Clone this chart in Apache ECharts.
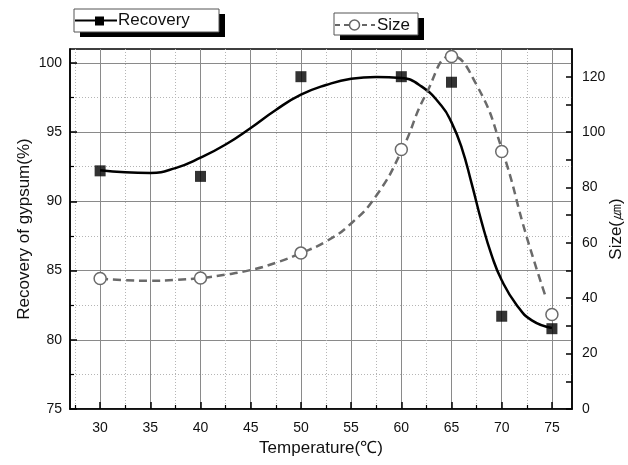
<!DOCTYPE html>
<html>
<head>
<meta charset="utf-8">
<script src="https://cdn.jsdelivr.net/npm/echarts@6/dist/echarts.min.js"></script>
<style>
  html, body { margin: 0; padding: 0; background: #fff; }
  #main { width: 628px; height: 465px; }
</style>
</head>
<body>
<div id="main"></div>
<script>
// measured points
const temps = [30, 40, 50, 60, 65, 70, 75];
const recovery = [92.2, 91.8, 99.0, 99.0, 98.6, 81.7, 80.8];
const size = [47.1, 47.3, 56.3, 93.7, 127.3, 93.0, 34.1];

// fitted curves
const recFitX = [30, 32.5, 35, 37.5, 40, 42.5, 45, 47.5, 50, 52.5, 55, 57.5, 60, 62, 64, 65, 66, 67, 68, 69, 70, 71.5, 73, 75];
const recFitY = [92.25, 92.1, 92.05, 92.4, 93.15, 94.1, 95.3, 96.6, 97.7, 98.4, 98.85, 98.98, 98.9, 98.3, 96.9, 95.7, 93.9, 91.3, 88.5, 86.1, 84.3, 82.5, 81.4, 80.85];
const sizeFitX = [30, 32.5, 35, 37.5, 40, 42.5, 45, 47.5, 50, 52.5, 55, 57.5, 60, 62.5, 65, 67.5, 70, 72.5, 74.4];
const sizeFitY = [47.1, 46.5, 46.3, 46.6, 47.3, 48.5, 50.2, 52.8, 56.3, 60.5, 67, 77, 93, 114, 127.5, 117, 94, 62, 40.3];

// axis ticks
const xTicks = [30, 35, 40, 45, 50, 55, 60, 65, 70, 75];
const xMinor = [27.5, 32.5, 37.5, 42.5, 47.5, 52.5, 57.5, 62.5, 67.5, 72.5];
const yTicks = [75, 80, 85, 90, 95, 100];
const yMinor = [77.5, 82.5, 87.5, 92.5, 97.5];
const y2Labels = [0, 20, 40, 60, 80, 100, 120];
const y2Ticks = [0, 10, 20, 30, 40, 50, 60, 70, 80, 90, 100, 110, 120];

const zip = (xs, ys) => xs.map((x, i) => [x, ys[i]]);

const chart = echarts.init(document.getElementById('main'), null, { renderer: 'canvas' });

const font = 'Liberation Sans, Arial, sans-serif';
const labelStyle = { color: '#111', fontSize: 14, fontFamily: font };

const option = {
  backgroundColor: '#ffffff',
  animation: false,
  grid: {
    left: 70, right: 56, top: 49, bottom: 56,
    outerBoundsMode: 'none', containLabel: false,
    show: true, borderColor: '#000', borderWidth: 1.5, backgroundColor: 'transparent'
  },
  xAxis: [
    {
      type: 'value', min: 27, max: 77, position: 'bottom',
      name: 'Temperature(℃)', nameLocation: 'middle', nameGap: 30,
      nameTextStyle: { color: '#111', fontSize: 17, fontFamily: font },
      axisLine: { lineStyle: { color: '#000', width: 1.5 } },
      axisTick: { inside: true, length: 7, customValues: xTicks, lineStyle: { color: '#000', width: 1.5 } },
      axisLabel: { customValues: xTicks, margin: 12, ...labelStyle },
      splitLine: { show: true, lineStyle: { color: '#8a8a8a', width: 1 } }
    },
    {
      type: 'value', min: 27, max: 77, position: 'bottom',
      axisLine: { show: false },
      axisTick: { inside: true, length: 4, customValues: xMinor, lineStyle: { color: '#000', width: 1.2 } },
      axisLabel: { show: false },
      splitLine: { show: true, lineStyle: { color: '#b5b5b5', width: 1, type: [1, 2] } }
    }
  ],
  yAxis: [
    {
      type: 'value', min: 75, max: 101, position: 'left',
      name: 'Recovery of gypsum(%)', nameLocation: 'middle', nameGap: 37, nameRotate: 90,
      nameMoveOverlap: false,
      nameTextStyle: { color: '#111', fontSize: 17, fontFamily: font },
      axisLine: { show: true, lineStyle: { color: '#000', width: 1.5 } },
      axisTick: { inside: true, length: 7, customValues: yTicks, lineStyle: { color: '#000', width: 1.5 } },
      axisLabel: { customValues: yTicks, margin: 8, ...labelStyle },
      splitLine: { show: true, lineStyle: { color: '#8a8a8a', width: 1 } }
    },
    {
      type: 'value', min: 75, max: 101, position: 'left',
      axisLine: { show: false },
      axisTick: { inside: true, length: 4, customValues: yMinor, lineStyle: { color: '#000', width: 1.2 } },
      axisLabel: { show: false },
      splitLine: { show: true, lineStyle: { color: '#b5b5b5', width: 1, type: [1, 2] } }
    },
    {
      type: 'value', min: 0, max: 130, position: 'right',
      name: 'Size(㎛)', nameLocation: 'middle', nameGap: 36, nameRotate: 90,
      nameMoveOverlap: false,
      nameTextStyle: { color: '#111', fontSize: 17, fontFamily: font },
      axisLine: { show: true, lineStyle: { color: '#000', width: 1.5 } },
      axisTick: { inside: true, length: 6, customValues: y2Ticks, lineStyle: { color: '#000', width: 1.5 } },
      axisLabel: { customValues: y2Labels, margin: 10, ...labelStyle },
      splitLine: { show: false }
    }
  ],
  graphic: [
    // Recovery legend box
    { type: 'rect', shape: { x: 80, y: 14, width: 145, height: 23 }, style: { fill: '#000' }, z: 10 },
    { type: 'rect', shape: { x: 74, y: 9, width: 145, height: 23 }, style: { fill: '#fff', stroke: '#555', lineWidth: 1 }, z: 11 },
    { type: 'line', shape: { x1: 75, y1: 20.5, x2: 117, y2: 20.5 }, style: { stroke: '#000', lineWidth: 2 }, z: 12 },
    { type: 'rect', shape: { x: 95, y: 16.5, width: 9, height: 9 }, style: { fill: '#000' }, z: 13 },
    { type: 'text', x: 118, y: 20.5, style: { text: 'Recovery', font: '17px ' + font, fill: '#111', verticalAlign: 'middle' }, z: 13 },
    // Size legend box
    { type: 'rect', shape: { x: 340, y: 18, width: 84, height: 22 }, style: { fill: '#000' }, z: 10 },
    { type: 'rect', shape: { x: 334, y: 13, width: 84, height: 22 }, style: { fill: '#fff', stroke: '#555', lineWidth: 1 }, z: 11 },
    { type: 'line', shape: { x1: 335, y1: 25, x2: 375, y2: 25 }, style: { stroke: '#666', lineWidth: 2, lineDash: [5, 4] }, z: 12 },
    { type: 'circle', shape: { cx: 354.5, cy: 25, r: 5 }, style: { fill: '#fff', stroke: '#666', lineWidth: 1.5 }, z: 13 },
    { type: 'text', x: 377, y: 25, style: { text: 'Size', font: '17px ' + font, fill: '#111', verticalAlign: 'middle' }, z: 13 }
  ],
  series: [
    {
      name: 'Recovery fit', type: 'line', xAxisIndex: 0, yAxisIndex: 0,
      data: zip(recFitX, recFitY), smooth: 0.5, symbol: 'none',
      lineStyle: { color: '#000', width: 2.5 }, z: 3
    },
    {
      name: 'Size fit', type: 'line', xAxisIndex: 0, yAxisIndex: 2,
      data: zip(sizeFitX, sizeFitY), smooth: 0.5, symbol: 'none',
      lineStyle: { color: '#6a6a6a', width: 2.5, type: [8, 5] }, z: 3
    },
    {
      name: 'Recovery', type: 'scatter', xAxisIndex: 0, yAxisIndex: 0,
      data: zip(temps, recovery), symbol: 'rect', symbolSize: 11,
      itemStyle: { color: '#000' }, z: 5
    },
    {
      name: 'Size', type: 'scatter', xAxisIndex: 0, yAxisIndex: 2,
      data: zip(temps, size), symbol: 'circle', symbolSize: 12,
      itemStyle: { color: '#fff', borderColor: '#6a6a6a', borderWidth: 1.5, opacity: 1 }, z: 6
    }
  ]
};

chart.setOption(option);
</script>
</body>
</html>
